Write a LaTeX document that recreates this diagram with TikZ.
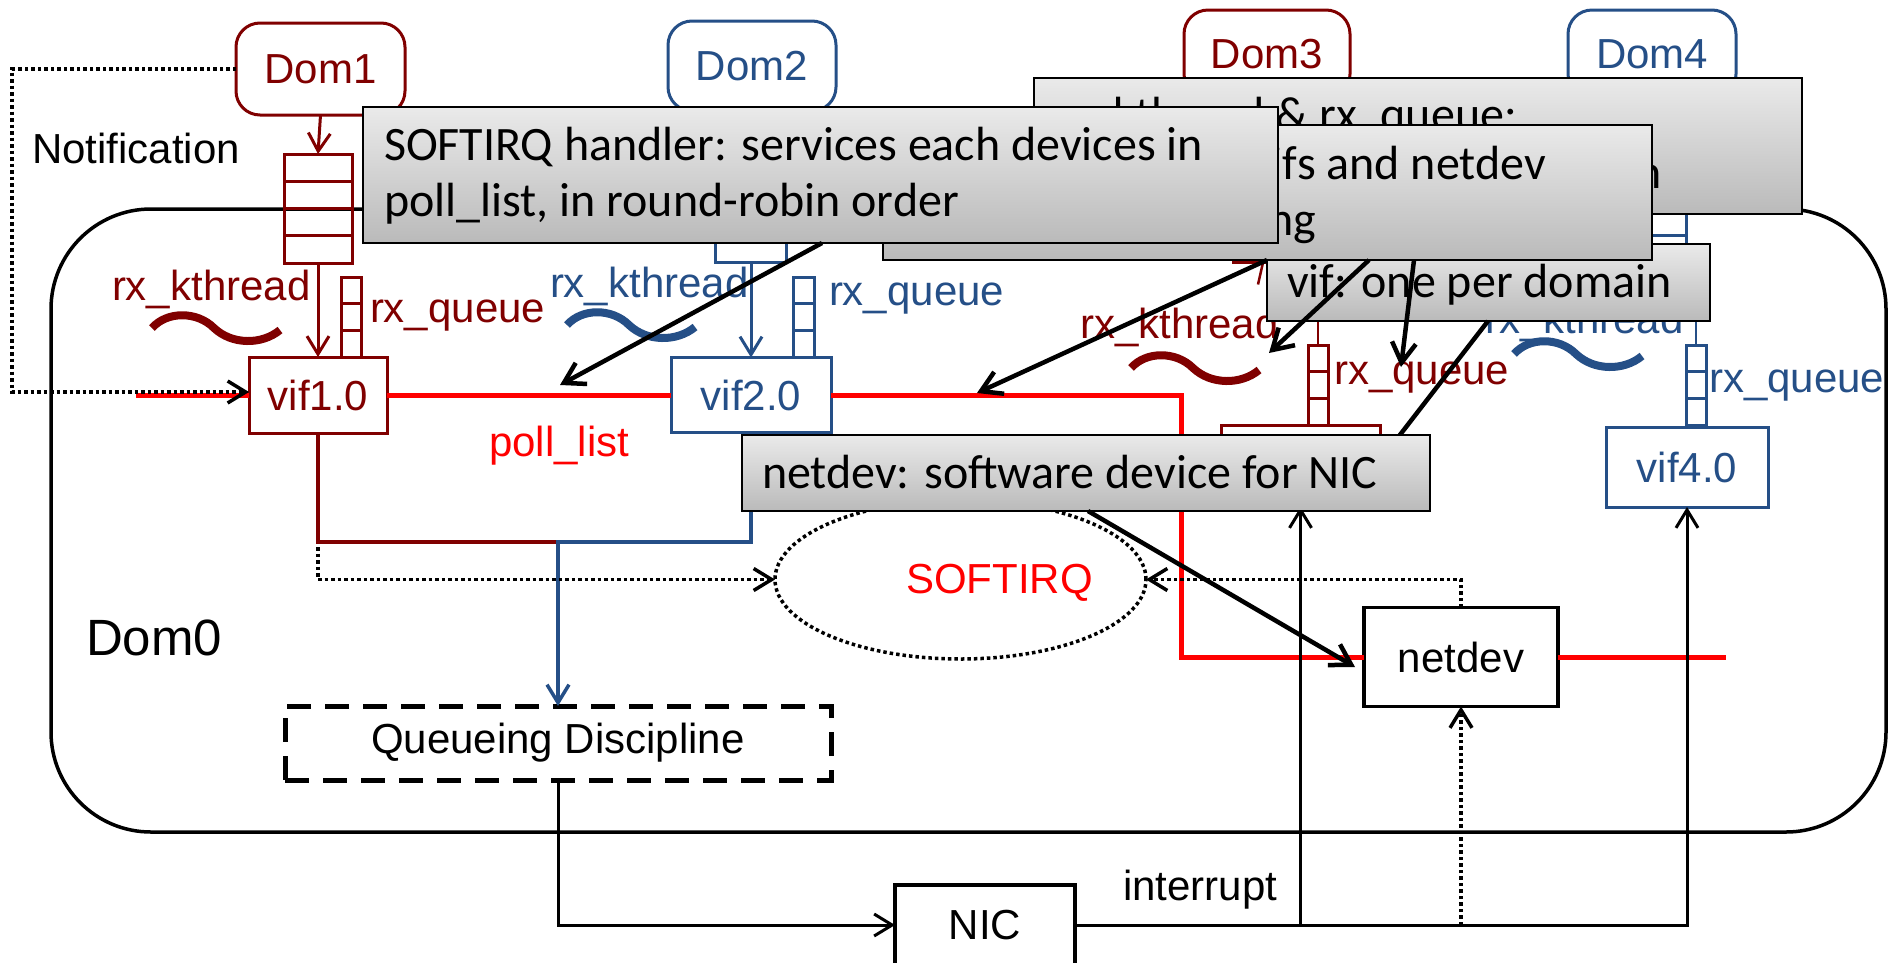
\documentclass[tikz,border=0pt]{standalone}
\usepackage{fontspec}
\setmainfont{Liberation Sans}
\newfontfamily\calibrifont{Carlito}
\usetikzlibrary{arrows.meta,calc,shapes.geometric}
\definecolor{dred}{RGB}{128,0,0}
\definecolor{dblue}{RGB}{37,79,135}
\definecolor{pred}{RGB}{255,0,0}
\definecolor{ctop}{RGB}{234,234,234}
\definecolor{cbot}{RGB}{186,186,186}
\newcommand\labfont{\fontsize{42}{50}\selectfont}
\newcommand\notefont{\calibrifont\fontsize{48}{56}\selectfont}

\begin{document}
\begin{tikzpicture}[x=1pt,y=-1pt,
  every node/.style={outer sep=0pt, inner sep=2pt},
  dombox/.style={draw=#1, text=#1, line width=3pt, rounded corners=24pt,
    minimum width=169pt, minimum height=92pt, font=\labfont},
  vifbox/.style={draw=#1, text=#1, line width=3pt, font=\labfont},
  bigq/.style={draw=#1, line width=3pt, minimum width=68pt, minimum height=109pt},
  smallq/.style={draw=#1, line width=3pt, minimum width=20pt, minimum height=80pt},
  lbl/.style={font=\labfont, text=#1, inner sep=0pt},
  notebox/.style={draw=black, line width=2.5pt, top color=ctop, bottom color=cbot},
  notetext/.style={font=\notefont, text=black, inner sep=0pt},
  wavy/.style={draw=#1, line width=8pt},
  arr/.style={-{Straight Barb[length=18pt,width=22pt]}},
  bigarr/.style={-{Straight Barb[length=20pt,width=24pt]}},
  redlink/.style={draw=pred, line width=5pt},
  dotlink/.style={draw=black, line width=3.5pt, dash pattern=on 3.5pt off 3pt},
  thinlink/.style={draw=black, line width=3pt},
  pointer/.style={draw=black, line width=4.5pt},
]
\useasboundingbox (0,0) rectangle (1900,962);
\clip (0,0) rectangle (1900,962);

% ---- Dom0 frame ----
\node[draw, line width=3.5pt, rounded corners=100pt, minimum width=1835pt,
      minimum height=623pt] (dom0) at (968.5,520.5) {};
\node[lbl=black, font=\fontsize{51}{60}\selectfont, anchor=base west] (dom0lab) at (86,655) {Dom0};

% ---- main boxes ----
\node[dombox=dred] (dom1) at (320.5,69) {Dom1};
\node[dombox=dblue, minimum width=168pt, minimum height=90pt] (dom2) at (752,66) {Dom2};
\node[dombox=dred, minimum width=166pt, minimum height=88pt] (dom3) at (1267,54) {Dom3};
\node[dombox=dblue, minimum width=168pt, minimum height=88pt] (dom4) at (1652,54) {Dom4};

\node[vifbox=dred, minimum width=138pt, minimum height=76pt] (vif1) at (318,395) {vif1.0};
\node[vifbox=dblue, minimum width=160pt, minimum height=75pt] (vif2) at (751,395) {vif2.0};
\node[vifbox=dred, minimum width=159pt, minimum height=82pt] (vif3) at (1300.5,466) {};
\node[vifbox=dblue, minimum width=162pt, minimum height=80pt] (vif4) at (1687,467) {vif4.0};

\node[draw, line width=3.5pt, minimum width=194pt, minimum height=99pt, font=\labfont] (nd) at (1461,657) {netdev};
\node[draw, line width=3.5pt, minimum width=180pt, minimum height=80pt, font=\labfont] (nic) at (985,925) {NIC};
\node[draw, line width=5pt, dash pattern=on 24pt off 14pt, minimum width=546pt,
      minimum height=74pt, font=\labfont] (qd) at (558,743) {Queueing Discipline};

\node[ellipse, dotlink, minimum width=371pt, minimum height=159pt] (sirq) at (960.5,579.5) {};
\node[lbl=pred, anchor=base west] (sirqlab) at (906,593) {SOFTIRQ};

% ---- queues ----
\node[bigq=dred] (q1) at (318,208.5) {};
\node[bigq=dblue, minimum width=71pt] (q2) at (751,208) {};
\node[bigq=dred] (q3) at (1267,208) {};
\node[bigq=dblue] (q4) at (1652,208.5) {};
\foreach \q/\c in {q1/dred,q2/dblue,q3/dred,q4/dblue}
  \foreach \f in {0.25,0.5,0.75}
    \draw[\c, line width=3pt] ($(\q.north west)!\f!(\q.south west)$) -- ($(\q.north east)!\f!(\q.south east)$);

\node[smallq=dred] (s1) at (351,317) {};
\node[smallq=dblue, minimum width=21pt] (s2) at (803.5,317) {};
\node[smallq=dred] (s3) at (1318,385) {};
\node[smallq=dblue] (s4) at (1696,385) {};
\foreach \q/\c in {s1/dred,s2/dblue,s3/dred,s4/dblue}
  \foreach \f in {0.3333,0.6667}
    \draw[\c, line width=3pt] ($(\q.north west)!\f!(\q.south west)$) -- ($(\q.north east)!\f!(\q.south east)$);

% ---- domain to queue to vif ----
\draw[dred, line width=3pt, arr] (dom1.south) -- (q1.north);
\draw[dred, line width=3pt, arr] (q1.south) -- (vif1.north);
\draw[dblue, line width=3pt, arr] (dom2.south) -- (q2.north);
\draw[dblue, line width=3pt, arr] (q2.south) -- (vif2.north);
\draw[dred, line width=3pt, arr] (dom3.south) -- (q3.north);
\draw[dblue, line width=3pt, arr] (dom4.south) -- (q4.north);
\draw[dred, line width=2.5pt] (s3.north) -- ++(0,-45);
\draw[dblue, line width=2.5pt] (s4.north) -- ++(0,-45);
\draw[dred, line width=2.5pt] ($(q3.south)+(-4,0)$) -- ++(-5,22);

% ---- labels ----
\node[lbl=black, anchor=base west] (notif) at (32,163) {Notification};
\node[lbl=dred, anchor=base west] (k1) at (112,300) {rx\_kthread};
\node[lbl=dred, anchor=base west] (rq1) at (370,322) {rx\_queue};
\node[lbl=dblue, anchor=base west] (k2) at (550,297) {rx\_kthread};
\node[lbl=dblue, anchor=base west] (rq2) at (829,305) {rx\_queue};
\node[lbl=dred, anchor=base west] (k3) at (1080,338) {rx\_kthread};
\node[lbl=dred, anchor=base west] (rq3) at (1334,384) {rx\_queue};
\node[lbl=dblue, anchor=base west] (k4) at (1485,333) {rx\_kthread};
\node[lbl=dblue, anchor=base west] (rq4) at (1709,392) {rx\_queue};
\node[lbl=pred, anchor=base west] (pl) at (489,456) {poll\_list};
\node[lbl=black, anchor=base west] (intr) at (1123,900) {interrupt};

% ---- kernel thread symbols ----
\draw[wavy=dred, shift={(152,328)}] (0,0) .. controls (15,-17) and (45,-17) .. (62,0) .. controls (80,17) and (110,17) .. (128,2);
\draw[wavy=dblue, shift={(567,325)}] (0,0) .. controls (15,-17) and (45,-17) .. (62,0) .. controls (80,17) and (110,17) .. (128,2);
\draw[wavy=dred, shift={(1131,368)}] (0,0) .. controls (15,-17) and (45,-17) .. (62,0) .. controls (80,17) and (110,17) .. (128,2);
\draw[wavy=dblue, shift={(1514,354)}] (0,0) .. controls (15,-17) and (45,-17) .. (62,0) .. controls (80,17) and (110,17) .. (128,2);

% ---- poll list (red) ----
\coordinate (rin) at (136,395);
\coordinate (rturn) at (1181,395);
\coordinate (rout) at (1726,657);
\draw[redlink] (rin) -- (vif1.west);
\draw[redlink] (vif1.east) -- (vif2.west);
\draw[redlink] (vif2.east) -- (rturn) |- (nd.west);
\draw[redlink] (nd.east) -- (rout);

% ---- notification ----
\coordinate (nleft) at (12,392);
\draw[dotlink, arr] (dom1.west) -| (nleft) -- ($(vif1.west)+(0,-3)$);

% ---- transmit path ----
\coordinate (j) at (558,542);
\draw[dred, line width=3.5pt] (vif1.south) |- (j);
\draw[dblue, line width=3.5pt, arr] (vif2.south) |- (j) -- (qd.north);
\coordinate (d1) at (318,547);
\draw[dotlink, arr] (d1) |- (sirq.west);
\draw[dotlink, arr] (nd.north) |- (sirq.east);
\draw[thinlink, arr] (qd.south) |- (nic.west);
\draw[thinlink, arr] (nic.east) -| (vif4.south);
\draw[thinlink, arr] (vif3.south |- nic.east) -- (vif3.south);
\draw[dotlink, arr] (nd.south |- nic.east) -- (nd.south);

% ---- callouts ----
\node[notebox, minimum width=768pt, minimum height=136pt] (c2) at (1418,146) {};
\node[notetext, anchor=base east] (c2a) at (1517,130) {rx\_kthread \& rx\_queue:};
\node[notetext, anchor=base east] (c2b) at (1662,188) {created for each guest domain};
\node[notebox, minimum width=443pt, minimum height=77pt] (c5) at (1488.5,282.5) {};
\node[notetext, anchor=base west] (c5a) at (1287,297) {vif: one per domain};
\node[notebox, minimum width=769pt, minimum height=135pt] (c3) at (1267.5,192.5) {};
\node[notetext, anchor=base east] (c3a) at (1546,179) {poll\_list: contains vifs and netdev};
\node[notetext, anchor=base east] (c3b) at (1316,235) {waiting for processing};
\node[notebox, minimum width=915pt, minimum height=136pt] (c1) at (820.5,175) {};
\node[notetext, anchor=base west] (c1a) at (384,160) {SOFTIRQ handler: services each devices in};
\node[notetext, anchor=base west] (c1b) at (384,216) {poll\_list, in round-robin order};

\coordinate (a5t) at (1396,440);
\draw[pointer] ($(c5.south west)+(221,0)$) -- (a5t);

\node[notebox, minimum width=688pt, minimum height=76pt] (c4) at (1086,473) {};
\node[notetext, anchor=base west] (c4a) at (762,488) {netdev: software device for NIC};

% ---- pointers ----
\coordinate (a1t) at (560,385);
\coordinate (a2t) at (977,393);
\coordinate (a3t) at (1269,353);
\coordinate (a4t) at (1401,367);
\coordinate (a6t) at (1355,667);
\draw[pointer, bigarr] ($(c1.south west)+(459,0)$) -- (a1t);
\draw[pointer, bigarr] ($(c3.south west)+(384,0)$) -- (a2t);
\draw[pointer, bigarr] ($(c3.south west)+(486,0)$) -- (a3t);
\draw[pointer, bigarr] ($(c3.south west)+(531,0)$) -- (a4t);
\draw[pointer, bigarr] ($(c4.south west)+(346,0)$) -- (a6t);
\end{tikzpicture}
\end{document}
